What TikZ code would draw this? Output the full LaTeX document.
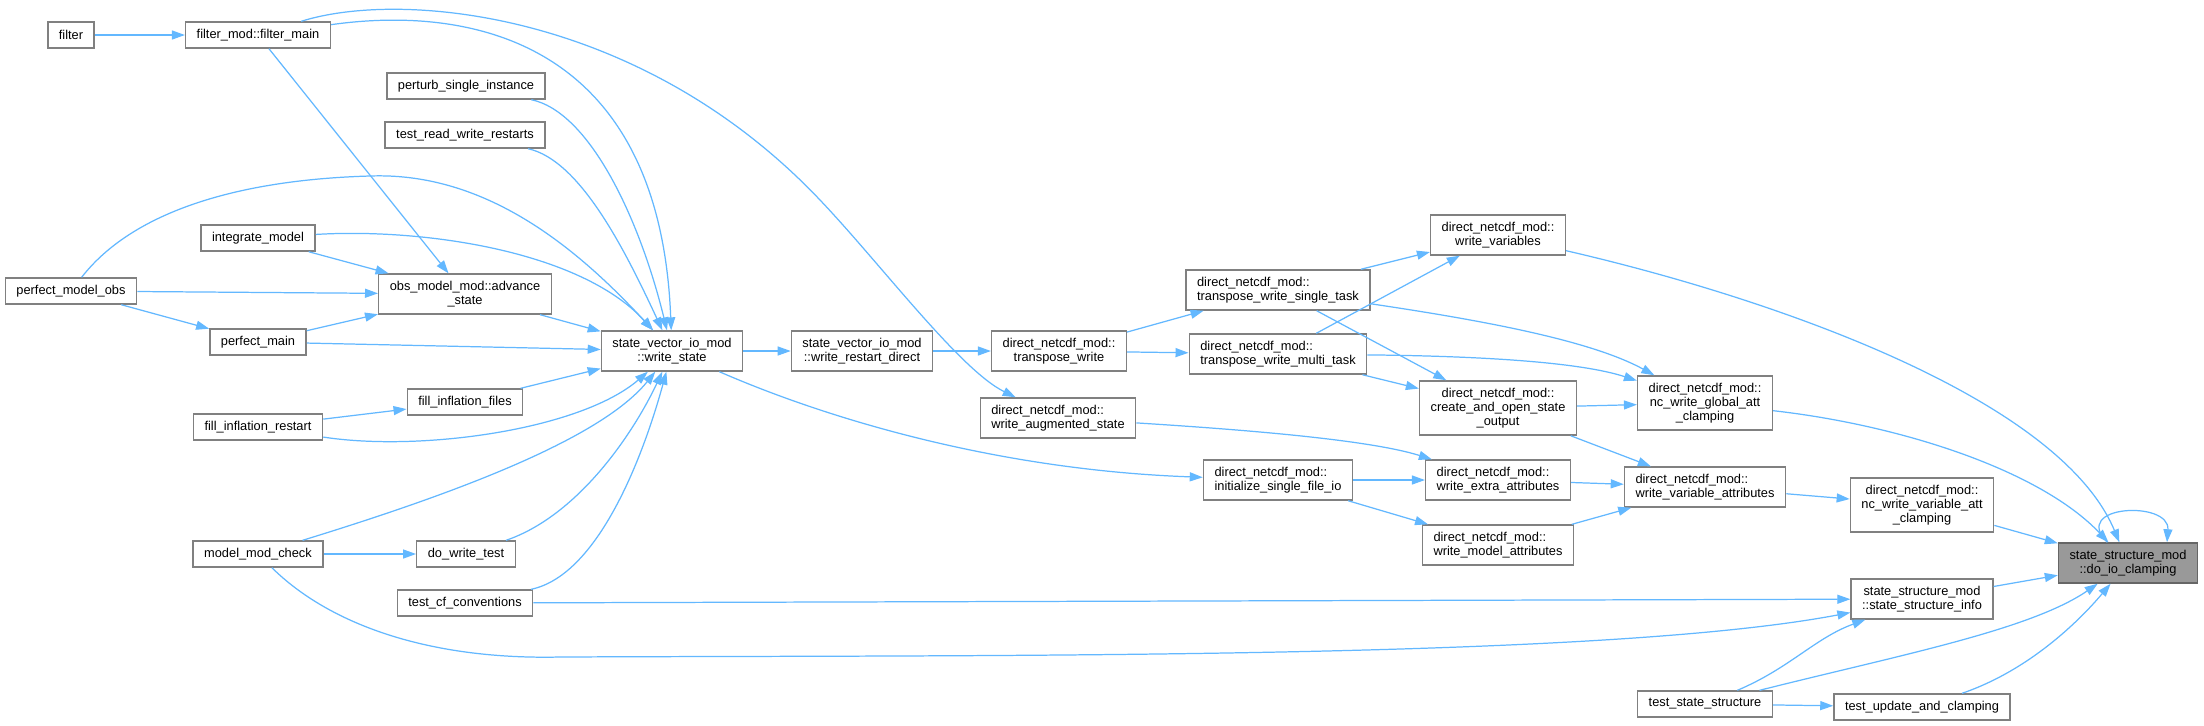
\documentclass[tikz,border=0pt]{standalone}
\usepackage{fontspec}
\setmainfont{Liberation Sans}
\usetikzlibrary{arrows.meta}
\definecolor{dgbg}{RGB}{255,255,255}
\definecolor{dgline}{RGB}{128,128,128}
\definecolor{dgroot}{RGB}{153,153,153}
\definecolor{dgedge}{RGB}{99,184,255}

\begin{document}
\begin{tikzpicture}[
  x=0.02cm, y=-0.02cm,
  font=\fontsize{7.3}{8}\selectfont,
  fn/.style={draw=dgline, fill=white, line width=0.8pt, align=center,
             inner xsep=6.3pt, inner ysep=4pt, minimum height=0.52cm},
  fnl/.style={fn, align=left},
  rootfn/.style={fn, fill=dgroot, draw=dgline!80!black},
  edge/.style={-{Triangle[length=0.26cm,width=0.18cm]}, line width=0.7pt, color=dgedge}
]
\useasboundingbox (0,0) rectangle (2204,725);
\fill[dgbg] (0,0) rectangle (2204,725);
% callers, left to right
\node[fn] (filter)      at (71,35)   {filter};
\node[fn] (fmain)       at (258,35)  {filter\_mod::filter\_main};
\node[fn] (perturb)     at (466,86)  {perturb\_single\_instance};
\node[fn] (trwr)        at (465,135) {test\_read\_write\_restarts};
\node[fn] (integ)       at (258,238) {integrate\_model};
\node[fn] (pmo)         at (71,291)  {perfect\_model\_obs};
\node[fn] (advance)     at (465,294) {obs\_model\_mod::advance\\\_state};
\node[fn] (pmain)       at (258,342) {perfect\_main};
\node[fn] (wstate)      at (672,351) {state\_vector\_io\_mod\\::write\_state};
\node[fn] (fillfiles)   at (465,402) {fill\_inflation\_files};
\node[fn] (fillrestart) at (258,427) {fill\_inflation\_restart};
\node[fn] (mmcheck)     at (258,554) {model\_mod\_check};
\node[fn] (dowrite)     at (466,554) {do\_write\_test};
\node[fn] (cfconv)      at (465,603) {test\_cf\_conventions};
\node[fn] (wrestart)    at (862,351) {state\_vector\_io\_mod\\::write\_restart\_direct};
\node[fn] (twrite)      at (1059,351) {direct\_netcdf\_mod::\\transpose\_write};
\node[fnl] (waug)       at (1058,418) {direct\_netcdf\_mod::\\write\_augmented\_state};
\node[fnl] (tsingle)    at (1278,290) {direct\_netcdf\_mod::\\transpose\_write\_single\_task};
\node[fnl] (tmulti)     at (1278,354) {direct\_netcdf\_mod::\\transpose\_write\_multi\_task};
\node[fnl] (initio)     at (1278,480) {direct\_netcdf\_mod::\\initialize\_single\_file\_io};
\node[fn] (wvars)       at (1498,235) {direct\_netcdf\_mod::\\write\_variables};
\node[fn] (createout)   at (1498,408) {direct\_netcdf\_mod::\\create\_and\_open\_state\\\_output};
\node[fnl] (wextra)     at (1498,480) {direct\_netcdf\_mod::\\write\_extra\_attributes};
\node[fnl] (wmodel)     at (1498,545) {direct\_netcdf\_mod::\\write\_model\_attributes};
\node[fn] (globatt)     at (1705,403) {direct\_netcdf\_mod::\\nc\_write\_global\_att\\\_clamping};
\node[fnl] (wvarattr)   at (1705,487) {direct\_netcdf\_mod::\\write\_variable\_attributes};
\node[fn] (varatt)      at (1922,505) {direct\_netcdf\_mod::\\nc\_write\_variable\_att\\\_clamping};
\node[fn] (ssinfo)      at (1922,599) {state\_structure\_mod\\::state\_structure\_info};
\node[rootfn] (doio)    at (2128,563) {state\_structure\_mod\\::do\_io\_clamping};
\node[fn] (tstate)      at (1705,704) {test\_state\_structure};
\node[fn] (tupdate)     at (1922,707) {test\_update\_and\_clamping};
% calls into write_state
\draw[edge] (filter) -- (fmain);
\draw[edge] (fmain) -- (advance);
\draw[edge] (fmain) .. controls (470,5) and (660,40) .. (wstate);
\draw[edge] (fmain) .. controls (400,-10) and (640,10) .. (820,200) .. controls (880,263) and (960,370) .. (waug);
\draw[edge] (perturb) .. controls (590,112) and (640,220) .. (wstate);
\draw[edge] (trwr) .. controls (580,160) and (625,250) .. (wstate);
\draw[edge] (pmo) .. controls (130,215) and (230,180) .. (370,176) .. controls (480,172) and (570,240) .. (wstate);
\draw[edge] (integ) .. controls (420,228) and (580,250) .. (wstate);
\draw[edge] (integ) -- (advance);
\draw[edge] (pmo) -- (advance);
\draw[edge] (pmo) -- (pmain);
\draw[edge] (pmain) -- (advance);
\draw[edge] (pmain) -- (wstate);
\draw[edge] (advance) -- (wstate);
\draw[edge] (fillfiles) -- (wstate);
\draw[edge] (fillrestart) -- (fillfiles);
\draw[edge] (fillrestart) .. controls (420,452) and (580,430) .. (wstate);
\draw[edge] (mmcheck) .. controls (450,495) and (600,440) .. (wstate);
\draw[edge] (mmcheck) -- (dowrite);
\draw[edge] (dowrite) .. controls (580,515) and (635,430) .. (wstate);
\draw[edge] (cfconv) .. controls (600,575) and (645,450) .. (wstate);
\draw[edge] (mmcheck) .. controls (330,625) and (430,660) .. (560,657) .. controls (1000,655) and (1600,660) .. (ssinfo);
\draw[edge] (cfconv) -- (ssinfo);
% netcdf writers
\draw[edge] (wstate) -- (wrestart);
\draw[edge] (wstate) .. controls (830,420) and (1000,470) .. (initio);
\draw[edge] (wrestart) -- (twrite);
\draw[edge] (twrite) -- (tsingle);
\draw[edge] (twrite) -- (tmulti);
\draw[edge] (tsingle) -- (wvars);
\draw[edge] (tsingle) .. controls (1480,320) and (1590,340) .. (globatt);
\draw[edge] (tsingle) -- (createout);
\draw[edge] (tmulti) -- (wvars);
\draw[edge] (tmulti) .. controls (1480,356) and (1580,362) .. (globatt);
\draw[edge] (tmulti) -- (createout);
\draw[edge] (waug) .. controls (1250,430) and (1370,440) .. (wextra);
\draw[edge] (initio) -- (wextra);
\draw[edge] (initio) -- (wmodel);
\draw[edge] (createout) -- (globatt);
\draw[edge] (createout) -- (wvarattr);
\draw[edge] (wextra) -- (wvarattr);
\draw[edge] (wmodel) -- (wvarattr);
\draw[edge] (wvarattr) -- (varatt);
% into do_io_clamping
\draw[edge] (wvars) .. controls (1780,300) and (2060,400) .. (doio);
\draw[edge] (globatt) .. controls (1900,425) and (2040,470) .. (doio);
\draw[edge] (varatt) -- (doio);
\draw[edge] (ssinfo) -- (doio);
\draw[edge] (tstate) .. controls (1790,668) and (1815,638) .. (ssinfo);
\draw[edge] (tstate) .. controls (1900,655) and (2030,630) .. (doio);
\draw[edge] (tstate) -- (tupdate);
\draw[edge] (tupdate) .. controls (2030,670) and (2080,620) .. (doio);
\draw[edge] (doio.135) .. controls (2070,505) and (2170,500) .. (doio.28);
\end{tikzpicture}
\end{document}
